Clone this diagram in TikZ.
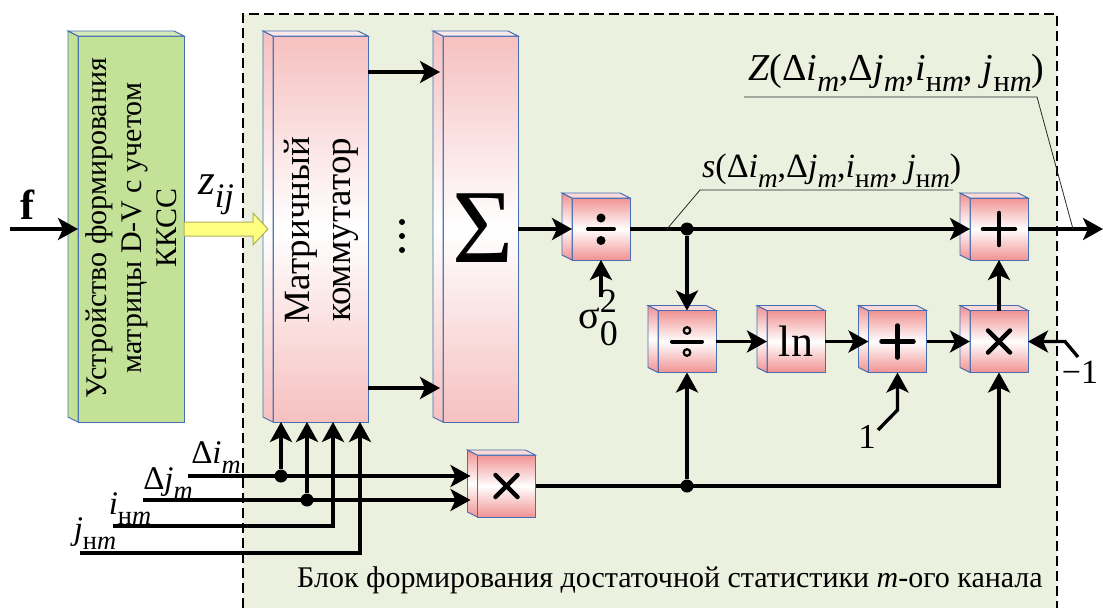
\documentclass[tikz,border=0pt]{standalone}
\usepackage{fontspec}
\usepackage{graphicx}
\setmainfont{Liberation Serif}
\usetikzlibrary{arrows.meta,calc}
\definecolor{bgG}{RGB}{235,241,222}
\definecolor{grBox}{RGB}{195,226,152}
\definecolor{pinkD}{RGB}{241,146,146}
\definecolor{pinkL}{RGB}{246,192,192}
\definecolor{edgeB}{RGB}{70,110,180}
\definecolor{yel}{RGB}{255,255,128}
\definecolor{yelE}{RGB}{175,175,90}
\tikzset{
  face/.style={draw=edgeB, line width=0.9pt, inner sep=0pt, outer sep=0pt},
  small/.style={face, minimum width=58pt, minimum height=62pt, top color=pinkD, bottom color=pinkD, middle color=white},
  big/.style={face, minimum height=386pt, top color=pinkL, bottom color=pinkL, middle color=white},
  greenface/.style={face, fill=grBox},
  sidesmall/.style={draw=edgeB, line width=0.9pt, top color=pinkD, bottom color=pinkD, middle color=white},
  topsmall/.style={draw=edgeB, line width=0.9pt, fill=pinkL!60},
  sidebig/.style={draw=edgeB, line width=0.9pt, top color=pinkL, bottom color=pinkL, middle color=white},
  topbig/.style={draw=edgeB, line width=0.9pt, fill=pinkL!35},
  sidegreen/.style={draw=edgeB, line width=0.9pt, fill=grBox},
  topgreen/.style={draw=edgeB, line width=0.9pt, fill=grBox!70},
  arr/.style={line width=3.3pt, -{Stealth[length=20pt,width=22pt,inset=5pt]}},
  sym/.style={line width=4.5pt, line cap=round},
  leader/.style={line width=0.8pt, draw=black!85},
  jdot/.style={circle, fill=black, inner sep=0pt, minimum size=13pt},
}
\newcommand{\depthfaces}[3]{%
  \path[#2] (#1.north west) -- ++(-10pt,5pt) -- ($(#1.south west)+(-10pt,5pt)$) -- (#1.south west) -- cycle;
  \path[#3] (#1.north west) -- ++(-10pt,5pt) -- ($(#1.north east)+(-10pt,5pt)$) -- (#1.north east) -- cycle;}
\newcommand{\mvar}[1]{\textit{#1}}
\newcommand{\sbs}[1]{\raisebox{-0.3em}{\scalebox{0.8}{#1}}}
\newcommand{\subm}{\sbs{\textit{m}}}
\newcommand{\subnm}{\sbs{н\textit{m}}}
\begin{document}
\begin{tikzpicture}[x=1pt,y=-1pt]
\useasboundingbox (0,0) rectangle (1103,608);
% dashed region
\fill[bgG] (243,14) rectangle (1057,608);
\draw[line width=1.3pt, dash pattern=on 10pt off 5pt] (243,608) -- (243,14) -- (1057,14) -- (1057,608);

% big boxes
\node[greenface, minimum width=106pt, minimum height=386pt] (gbox) at (131,229) {};
\depthfaces{gbox}{sidegreen}{topgreen}
\node[big, minimum width=95pt] (comm) at (320.5,229) {};
\depthfaces{comm}{sidebig}{topbig}
\node[big, minimum width=75pt] (sumb) at (480.5,229) {};
\depthfaces{sumb}{sidebig}{topbig}

% small boxes
\node[small] (div1) at (601,229) {};
\depthfaces{div1}{sidesmall}{topsmall}
\node[small] (add1) at (999,229) {};
\depthfaces{add1}{sidesmall}{topsmall}
\node[small] (div2) at (687,341.5) {};
\depthfaces{div2}{sidesmall}{topsmall}
\node[small] (lnb) at (796,341.5) {\fontsize{44}{44}\selectfont ln};
\depthfaces{lnb}{sidesmall}{topsmall}
\node[small] (add2) at (897.5,341.5) {};
\depthfaces{add2}{sidesmall}{topsmall}
\node[small] (mul2) at (999,341.5) {};
\depthfaces{mul2}{sidesmall}{topsmall}
\node[small] (mul1) at (506.5,486) {};
\depthfaces{mul1}{sidesmall}{topsmall}

% symbols
\draw[sym] ([xshift=-16pt]add1.center) -- ([xshift=16pt]add1.center);
\draw[sym] ([yshift=-16pt]add1.center) -- ([yshift=16pt]add1.center);
\draw[sym] ([xshift=-16pt]add2.center) -- ([xshift=16pt]add2.center);
\draw[sym] ([yshift=-16pt]add2.center) -- ([yshift=16pt]add2.center);
\draw[sym] ([shift={(-11pt,-11pt)}]mul2.center) -- ([shift={(11pt,11pt)}]mul2.center);
\draw[sym] ([shift={(-11pt,11pt)}]mul2.center) -- ([shift={(11pt,-11pt)}]mul2.center);
\draw[sym] ([shift={(-11pt,-11pt)}]mul1.center) -- ([shift={(11pt,11pt)}]mul1.center);
\draw[sym] ([shift={(-11pt,11pt)}]mul1.center) -- ([shift={(11pt,-11pt)}]mul1.center);
\draw[line width=4pt, line cap=round] ([xshift=-13pt]div1.center) -- ([xshift=13pt]div1.center);
\fill ([yshift=11pt]div1.center) circle (4.5pt);
\fill ([yshift=-11.5pt]div1.center) circle (4.5pt);
\draw[line width=4pt, line cap=round] ([xshift=-15pt]div2.center) -- ([xshift=15pt]div2.center);
\draw[line width=2.2pt] ([yshift=11pt]div2.center) circle (3.3pt);
\draw[line width=2.2pt] ([yshift=-11pt]div2.center) circle (3.3pt);

% texts in big boxes
\node[rotate=90, align=center, font=\fontsize{30}{35}\selectfont] (gtxt) at (131,228) {Устройство формирования\\матрицы D-V с учетом\\ККСС};
\node[rotate=90, align=center, font=\fontsize{37}{41}\selectfont] (ctxt) at (321,230) {Матричный\\коммутатор};
\node[font=\fontsize{105}{105}\selectfont] (sig) at (483,228) {Σ};
\fill (402,222) circle (3pt) (402,236) circle (3pt) (402,250) circle (3pt);

% coordinates
\coordinate (fin) at (10,229);
\coordinate (sigin) at (601,297);
\coordinate (out) at (1103,229);
\coordinate (one) at (878,430);
\coordinate (onek) at (897.5,410);
\coordinate (m1) at (1078,357);
\coordinate (m1k) at (1065,341.5);
\coordinate (di) at (188,476);
\coordinate (dj) at (143,500);
\coordinate (in) at (113,526);
\coordinate (jn) at (80,553);
\coordinate (v1) at ($(comm.south)+(-39.5pt,0pt)$);
\coordinate (v2) at ($(comm.south)+(-13.5pt,0pt)$);
\coordinate (v3) at ($(comm.south)+(12.5pt,0pt)$);
\coordinate (v4) at ($(comm.south)+(39.5pt,0pt)$);

% connectors
\draw[arr] (fin) -- (gbox.west);
\draw[fill=yel, draw=yelE, line width=1pt]
  ($(gbox.east)+(0pt,7pt)$) -- ($(comm.west)+(-20pt,7pt)$) -- ($(comm.west)+(-20pt,16pt)$)
  -- ($(comm.west)+(-5pt,0pt)$) -- ($(comm.west)+(-20pt,-16pt)$) -- ($(comm.west)+(-20pt,-7pt)$)
  -- ($(gbox.east)+(0pt,-7pt)$) -- cycle;
\draw[arr, shorten >=3pt] (comm.east |- 0,72) -- (sumb.west |- 0,72);
\draw[arr, shorten >=3pt] (comm.east |- 0,388) -- (sumb.west |- 0,388);
\draw[arr] (sumb.east) -- (div1.west);
\draw[arr] (div1.east) -- (add1.west);
\node[jdot] (j1) at (div2.north |- div1.east) {};
\draw[arr] (j1) -- (div2.north);
\draw[arr] (sigin) -- (div1.south);
\draw[arr] (div2.east) -- (lnb.west);
\draw[arr] (lnb.east) -- (add2.west);
\draw[arr] (add2.east) -- (mul2.west);
\draw[arr] (mul2.north) -- (add1.south);
\draw[arr] (add1.east) -- (out);
\draw[arr] (one) -- (onek) -- (add2.south);
\draw[arr] (m1) -- (m1k) -- (mul2.east);
\draw[arr] (mul1.east) -| (mul2.south);
\node[jdot] (j2) at (div2.south |- mul1.east) {};
\draw[arr] (j2) -- (div2.south);
\draw[arr, shorten >=7pt] (di) -- (di -| mul1.west);
\draw[arr, shorten >=7pt] (dj) -- (dj -| mul1.west);
\node[jdot] (jdi) at (v1 |- di) {};
\node[jdot] (jdj) at (v2 |- dj) {};
\draw[arr] (jdi) -- (v1);
\draw[arr] (jdj) -- (v2);
\draw[arr] (in) -| (v3);
\draw[arr] (jn) -| (v4);

% leaders
\coordinate (s0) at (667,229);
\coordinate (s1) at (700,190);
\coordinate (s2) at (953,190);
\draw[leader] (s0) -- (s1) -- (s2);
\coordinate (z0) at (1073,229);
\coordinate (z1) at (1037,97);
\coordinate (z2) at (744,97);
\draw[leader] (z0) -- (z1) -- (z2);

% labels
\node[font=\fontsize{42}{42}\selectfont\bfseries] (flab) at (27,205) {f};
\node[font=\fontsize{43}{43}\selectfont] (zlab) at (216,195) {\mvar{z}\sbs{\mvar{ij}}};
\node[font=\fontsize{33}{33}\selectfont] (lab1) at (216,458) {Δ\mvar{i}\subm};
\node[font=\fontsize{33}{33}\selectfont] (lab2) at (168,484) {Δ\mvar{j}\subm};
\node[font=\fontsize{33}{33}\selectfont] (lab3) at (130,509) {\mvar{i}\subnm};
\node[font=\fontsize{33}{33}\selectfont] (lab4) at (95,534) {\mvar{j}\subnm};
\node[font=\fontsize{34}{34}\selectfont, anchor=base west, inner sep=0pt] (slab) at (702,177) {\mvar{s}(Δ\mvar{i}\subm,Δ\mvar{j}\subm,\mvar{i}\subnm, \mvar{j}\subnm)};
\node[font=\fontsize{38}{38}\selectfont, anchor=base west, inner sep=0pt] (zblab) at (748,80) {\mvar{Z}(Δ\mvar{i}\subm,Δ\mvar{j}\subm,\mvar{i}\subnm, \mvar{j}\subnm)};
\node[font=\fontsize{40}{40}\selectfont, anchor=base west, inner sep=0pt] (sglab) at (578,328) {σ\rlap{\raisebox{16pt}{\fontsize{34}{34}\selectfont 2}}\raisebox{-17pt}{\fontsize{36}{36}\selectfont 0}};
\node[font=\fontsize{35}{35}\selectfont] (onelab) at (867,437) {1};
\node[font=\fontsize{34}{34}\selectfont] (m1lab) at (1080,372) {−1};
\node[font=\fontsize{30}{30}\selectfont] (btxt) at (670,580) {Блок формирования достаточной статистики \mvar{m}-ого канала};
\end{tikzpicture}
\end{document}
